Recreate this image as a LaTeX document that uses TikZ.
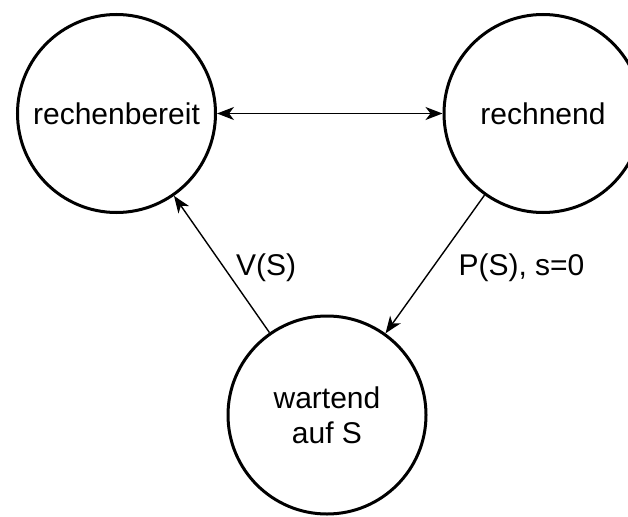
\documentclass[tikz,border=0pt]{standalone}
\usepackage{fontspec}
\setmainfont{Liberation Sans}
\usetikzlibrary{arrows.meta}

\tikzset{
  state/.style={circle, draw, line width=3pt, minimum size=198pt, inner sep=0pt,
    align=center, font=\fontsize{30}{35}\selectfont},
  trans/.style={line width=1.4pt, -{Stealth[length=17pt,width=13pt,inset=5pt]}},
  both/.style={line width=1.4pt, {Stealth[length=17pt,width=13pt,inset=5pt]}-{Stealth[length=17pt,width=13pt,inset=5pt]}},
  lbl/.style={inner sep=0pt, font=\fontsize{30}{35}\selectfont}
}

\begin{document}
\begin{tikzpicture}[x=1pt, y=-1pt]
  \useasboundingbox (0,0) rectangle (628,516);

  % process states
  \node[state] (bereit)  at (116.5,113.5) {rechenbereit};
  \node[state] (rechnet) at (543,113.5)   {rechnend};
  \node[state] (wartet)  at (327,415)     {wartend\\auf S};

  % transitions
  \draw[both]  (bereit) -- (rechnet);
  \draw[trans] (wartet) -- (bereit);
  \draw[trans] (rechnet) -- (wartet);

  % transition labels
  \node[lbl] (lblV) at (266,268) {V(S)};
  \node[lbl] (lblP) at (521.5,268) {P(S), s=0};
\end{tikzpicture}
\end{document}
